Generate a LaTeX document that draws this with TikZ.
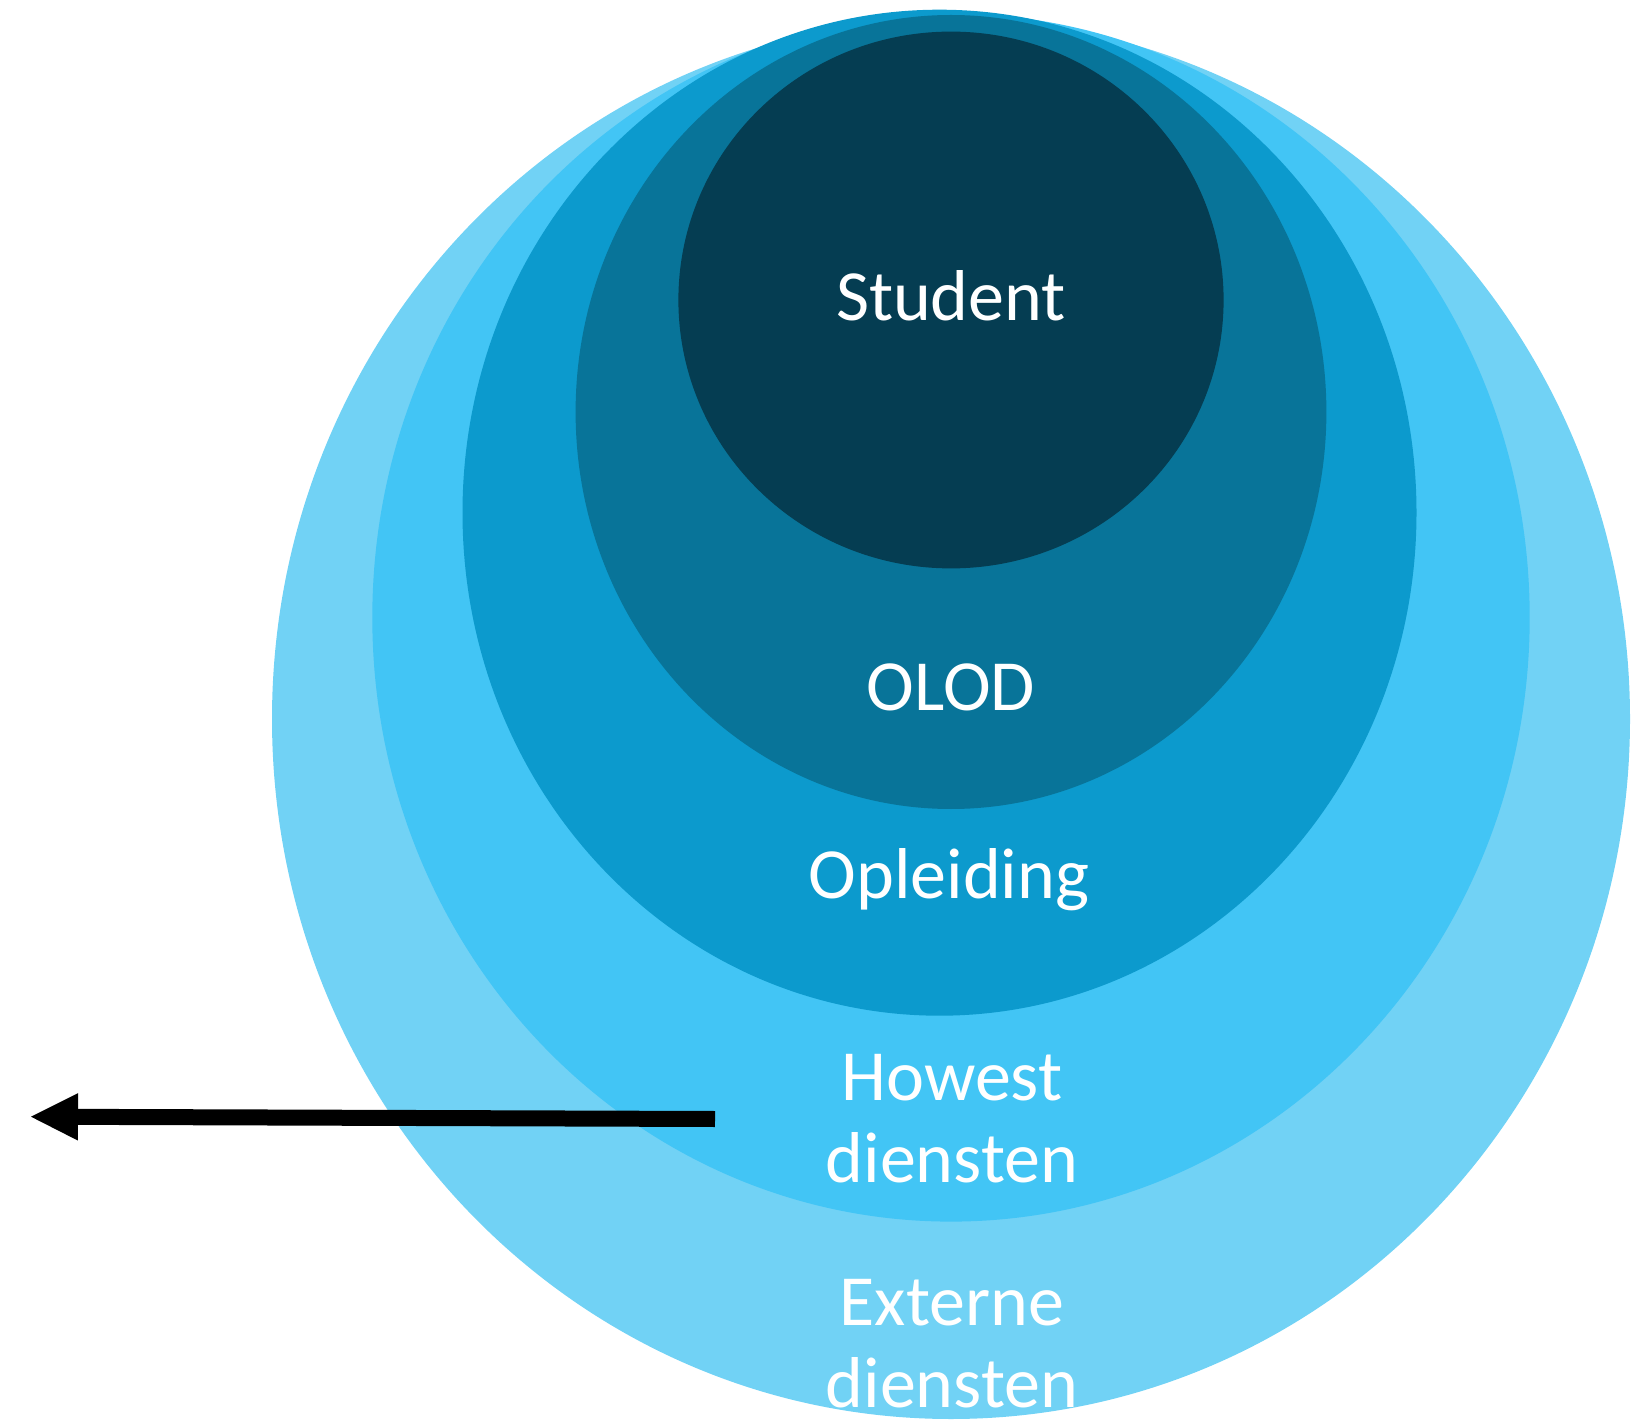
\documentclass[tikz,border=0pt]{standalone}
\usepackage{fontspec}
\setmainfont{Carlito}
\usepackage{tikz}
\usetikzlibrary{shapes.geometric,arrows.meta}

\definecolor{externec}{HTML}{71D2F5}
\definecolor{howestc}{HTML}{42C5F5}
\definecolor{opleidc}{HTML}{0C9ACD}
\definecolor{olodc}{HTML}{087499}
\definecolor{studc}{HTML}{053D52}

\begin{document}
\begin{tikzpicture}[
  x=0.5pt, y=-0.5pt,
  ring/.style={ellipse, fill=#1, draw=none, inner sep=0pt},
  ringlabel/.style={text=white, anchor=base, align=center,
    font=\fontsize{36}{41}\selectfont},
  pointer/.style={line width=8pt, -{Triangle[length=23.5pt, width=23.7pt, line width=0pt]}}
]
\useasboundingbox (0,0) rectangle (1644,1422);

% Nested rings, outermost first
\node[ring=externec, minimum width=679pt, minimum height=700pt] (externe) at (951,719) {};
\node[ring=howestc, minimum width=578.7pt, minimum height=604pt] (howest) at (951,617.6) {};
\node[ring=opleidc, minimum width=477pt, minimum height=503pt] (opleiding) at (939.5,512.7) {};
\node[ring=olodc, minimum width=375.4pt, minimum height=397pt] (olod) at (951,412) {};
\node[ring=studc, minimum width=272.6pt, minimum height=268.4pt] (student) at (951,300) {};

% Labels (multi-line ones sit on their last line)
\node[ringlabel] (studentlbl) at (951,321) {Student};
\node[ringlabel] (olodlbl) at (951,711) {OLOD};
\node[ringlabel] (opleidinglbl) at (949,898) {Opleiding};
\node[ringlabel] (howestlbl) at (952,1182) {Howest\\diensten};
\node[ringlabel] (externelbl) at (952,1407) {Externe\\diensten};

% Arrow pointing out
\coordinate (tail) at (715,1119);
\coordinate (tip) at (31,1116.7);
\draw[pointer] (tail) -- (tip);

\end{tikzpicture}
\end{document}
